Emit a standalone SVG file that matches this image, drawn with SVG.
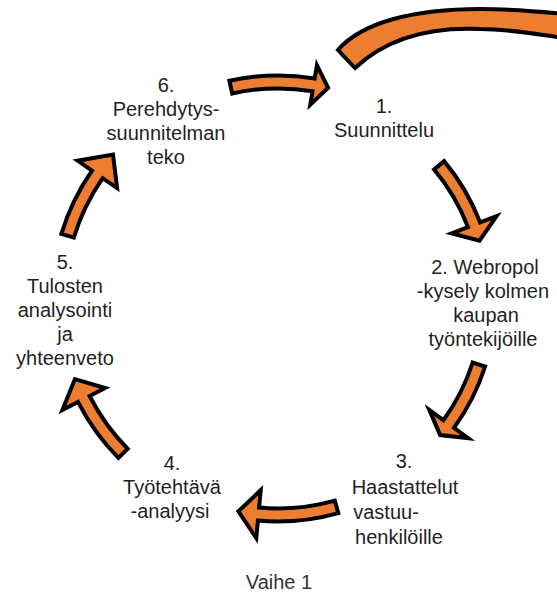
<svg xmlns="http://www.w3.org/2000/svg" width="557" height="603" viewBox="0 0 557 603">
  <style>
    .arrow { fill: #ED7D31; stroke: #000; stroke-width: 4; stroke-linejoin: miter; stroke-miterlimit: 10; }
    .label { font-family: "Liberation Sans", Arial, sans-serif; font-size: 20px; fill: #1f1f1f; text-anchor: middle; }
    .caption { font-family: "Liberation Sans", Arial, sans-serif; font-size: 20px; fill: #333; text-anchor: middle; }
  </style>
  <rect width="557" height="603" fill="#fff"/>

  <g id="connectors">
    <!-- large return arc leaving the frame at the top right -->
    <path class="arrow" d="M338,50 C362,22 415,9 480,9 C515,9 545,12 565,14 L565,38 C540,35 510,29 480,29 C435,27 390,35 355,68 Z"/>
    <!-- 6 -> 1 -->
    <path class="arrow" d="M229.4,80.8 A224.5,224.5 0 0 1 314.7,78.5 L316.9,65.2 L328.1,87.8 L310.3,104.7 L312.5,91.3 A211.5,211.5 0 0 0 232.2,93.5 Z"/>
    <!-- 1 -> 2 -->
    <path class="arrow" d="M444.1,161.1 A216.5,216.5 0 0 1 480.1,222.4 L496.5,216.1 L479.5,240.7 L451.6,233.3 L468.0,227.1 A203.5,203.5 0 0 0 434.1,169.5 Z"/>
    <!-- 2 -> 3 -->
    <path class="arrow" d="M485.1,366.5 A217.5,217.5 0 0 1 454.0,427.8 L468.1,438.1 L440.1,435.1 L429.3,409.9 L443.4,420.2 A204.5,204.5 0 0 0 472.7,362.5 Z"/>
    <!-- 3 -> 4 -->
    <path class="arrow" d="M338.3,513.1 A221.5,221.5 0 0 1 257.9,520.6 L256.3,538.0 L238.4,511.3 L260.7,490.2 L259.1,507.6 A208.5,208.5 0 0 0 334.8,500.6 Z"/>
    <!-- 4 -> 5 -->
    <path class="arrow" d="M118.4,457.9 A224.5,224.5 0 0 1 78.0,401.9 L62.4,409.9 L74.9,379.2 L105.1,388.1 L89.6,396.0 A211.5,211.5 0 0 0 127.7,448.8 Z"/>
    <!-- 5 -> 6 -->
    <path class="arrow" d="M61.4,233.8 A226.5,226.5 0 0 1 92.0,170.7 L77.7,160.7 L113.0,154.5 L117.1,188.1 L102.7,178.2 A213.5,213.5 0 0 0 73.8,237.6 Z"/>
  </g>

  <g id="step1">
    <text class="label" x="384" y="113">1.</text>
    <text class="label" x="384" y="137">Suunnittelu</text>
  </g>

  <g id="step2">
    <text class="label" x="485" y="274">2. Webropol</text>
    <text class="label" x="483" y="298">-kysely kolmen</text>
    <text class="label" x="486" y="322">kaupan</text>
    <text class="label" x="483" y="346">työntekijöille</text>
  </g>

  <g id="step3">
    <text class="label" x="404" y="468">3.</text>
    <text class="label" x="405" y="494">Haastattelut</text>
    <text class="label" x="386" y="519">vastuu-</text>
    <text class="label" x="399" y="544">henkilöille</text>
  </g>

  <g id="step4">
    <text class="label" x="172" y="470">4.</text>
    <text class="label" x="172" y="494">Työtehtävä</text>
    <text class="label" x="170" y="518">-analyysi</text>
  </g>

  <g id="step5">
    <text class="label" x="65" y="269">5.</text>
    <text class="label" x="65" y="293">Tulosten</text>
    <text class="label" x="65" y="317">analysointi</text>
    <text class="label" x="65" y="341">ja</text>
    <text class="label" x="65" y="365">yhteenveto</text>
  </g>

  <g id="step6">
    <text class="label" x="166" y="92">6.</text>
    <text class="label" x="166" y="116">Perehdytys-</text>
    <text class="label" x="166" y="140">suunnitelman</text>
    <text class="label" x="166" y="164">teko</text>
  </g>

  <g id="caption">
    <text class="caption" x="279" y="589">Vaihe 1</text>
  </g>
</svg>
